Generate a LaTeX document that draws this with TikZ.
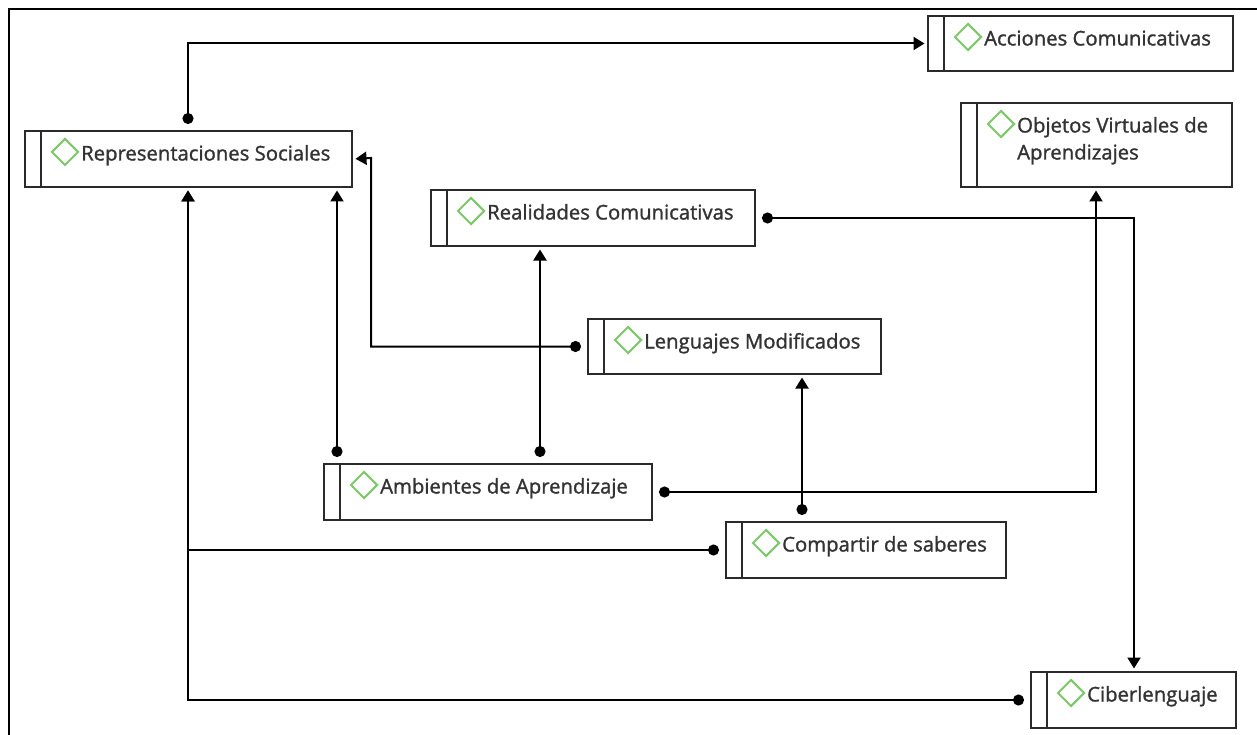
\documentclass[tikz,border=0pt]{standalone}
\usepackage{fontspec}
\setmainfont{Open Sans}
\newfontfamily\lblfont{Open Sans}[FakeBold=1.3]
\usetikzlibrary{arrows.meta,shapes.geometric,calc}
\definecolor{txt}{HTML}{333333}
\definecolor{dgreen}{HTML}{7CC86A}
\definecolor{bord}{HTML}{2A2A2A}
\tikzset{
  cbox/.style={draw=bord, line width=2pt, rectangle, inner sep=0pt, anchor=north west, fill=white},
  dia/.style={draw=dgreen, line width=2pt, diamond, inner sep=0pt, minimum width=27pt, minimum height=27pt},
  lbl/.style={anchor=base west, inner sep=0pt, text=txt, font=\lblfont\fontsize{20.3}{27}\selectfont},
  link/.style={line width=2pt, black, {Circle[length=11pt]}-{Triangle[length=11pt,width=13pt]}, shorten <=6pt, shorten >=2.5pt},
}
\newcommand{\cbx}[6]{%
  \node[cbox, minimum width=#4pt, minimum height=#5pt] (#1) at (#2,#3) {};
  \draw[bord, line width=2pt] ($(#1.north west)+(17,0)$) -- ($(#1.south west)+(17,0)$);
  \node[dia] (#1-d) at ($(#1.north west)+(41,22)$) {};
  \node[lbl] (#1-t) at ($(#1.north west)+(57,30.5)$) {#6};
}
\begin{document}
\begin{tikzpicture}[x=1pt,y=-1pt]
\useasboundingbox (0,0) rectangle (1257,735);
\draw[black, line width=2.2pt] (9,735) -- (9,9) -- (1257,9);
\cbx{ac}{927}{15}{305}{55}{Acciones Comunicativas}
\cbx{rs}{24}{130}{327}{56}{Representaciones Sociales}
\cbx{ov}{960}{102}{271}{84}{\begin{tabular}[t]{@{}l@{}}Objetos Virtuales de\\Aprendizajes\end{tabular}}
\cbx{rc}{430}{189}{324}{56}{Realidades Comunicativas}
\cbx{lm}{587}{318}{293}{55}{Lenguajes Modificados}
\cbx{amb}{323}{463}{328}{56}{Ambientes de Aprendizaje}
\cbx{cs}{725}{521}{280}{56}{Compartir de saberes}
\cbx{cl}{1030}{671}{205}{56}{Ciberlenguaje}
\coordinate (k1) at (371,158);
\coordinate (k2) at (337,0);
\coordinate (k3) at (540,0);
\coordinate (k4) at (1096,0);
\coordinate (k5) at (1134,0);
\coordinate (k6) at (802,0);
\coordinate (k7) at (188,0);
\draw[link] (rs.north -| k7) |- (ac.west);
\draw[link] (lm.west) -| (k1) -- (rs.east);
\draw[link] (amb.north -| k2) -- (rs.south -| k2);
\draw[link] (amb.north -| k3) -- (rc.south -| k3);
\draw[link] (amb.east) -| (ov.south -| k4);
\draw[link] (rc.east) -| (cl.north -| k5);
\draw[link] (cs.north -| k6) -- (lm.south -| k6);
\draw[link] (cs.west) -| (rs.south -| k7);
\draw[link] (cl.west) -| (rs.south -| k7);
\end{tikzpicture}
\end{document}
